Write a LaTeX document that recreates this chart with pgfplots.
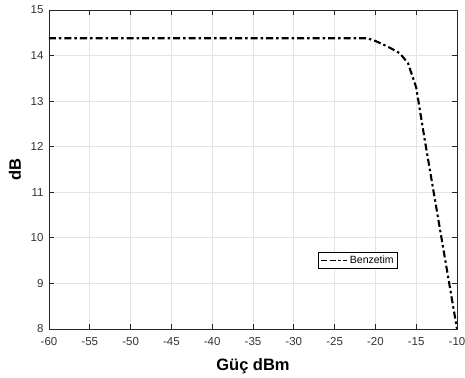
\documentclass[border=0pt]{standalone}
\usepackage{pgfplots}
\pgfplotsset{compat=1.18}
\usepackage{fontspec}
\setmainfont{Liberation Sans}
\definecolor{gridc}{RGB}{228,228,228}
\begin{document}
\begin{tikzpicture}
\begin{axis}[
  scale only axis,
  width=408pt, height=319pt,
  xmin=-60, xmax=-10, ymin=8, ymax=15,
  xtick={-60,-55,...,-10},
  ytick={8,9,...,15},
  tick align=inside,
  tick pos=both,
  major tick length=5pt,
  grid=major,
  major grid style={gridc, line width=0.8pt},
  axis line style={line width=0.8pt, black!85},
  tick style={line width=0.8pt, black!85},
  /pgf/number format/assume math mode=true,
  ticklabel style={font=\fontsize{11.5}{13}\selectfont, text=black!80},
  xticklabel style={yshift=-5pt},
  yticklabel style={xshift=-2pt},
  xlabel={Güç dBm},
  ylabel={dB},
  xlabel style={font=\fontsize{16.5}{18}\selectfont\bfseries, at={(axis description cs:0.5,0)}, anchor=center, yshift=-37pt},
  ylabel style={font=\fontsize{16.5}{18}\selectfont\bfseries, at={(axis description cs:0,0.5)}, anchor=center, yshift=34pt},
  legend style={at={(0.659,0.241)}, anchor=north west, font=\fontsize{10.5}{12}\selectfont, draw=black, line width=0.6pt, inner xsep=2pt, inner ysep=1.5pt},
  legend cell align=left,
  legend image code/.code={\draw[black, line width=1.8pt, dash pattern=on 6pt off 2.5pt on 6pt off 2.5pt on 2.5pt off 2.5pt] (0pt,0pt) -- (26pt,0pt);},
]
\coordinate (SW) at (rel axis cs:0,0);
\coordinate (NE) at (rel axis cs:1,1);
\addplot[black, line width=2.1pt, dash pattern=on 7pt off 3pt on 2.5pt off 3pt] coordinates {
(-60,14.38) (-55,14.38) (-50,14.38) (-45,14.38) (-40,14.38) (-35,14.38) (-30,14.38) (-25,14.38)
(-21,14.38) (-20,14.32) (-19,14.24) (-18,14.15) (-17,14.05) (-16,13.83) (-15,13.3)
(-14,12.2) (-13,11.15) (-12,10.1) (-11,9.05) (-10,8)
};
\addlegendentry{Benzetim}
\end{axis}
\pgfresetboundingbox
\path ([shift={(-49pt,-49pt)}]SW) rectangle ([shift={(8pt,10pt)}]NE);
\end{tikzpicture}
\end{document}
